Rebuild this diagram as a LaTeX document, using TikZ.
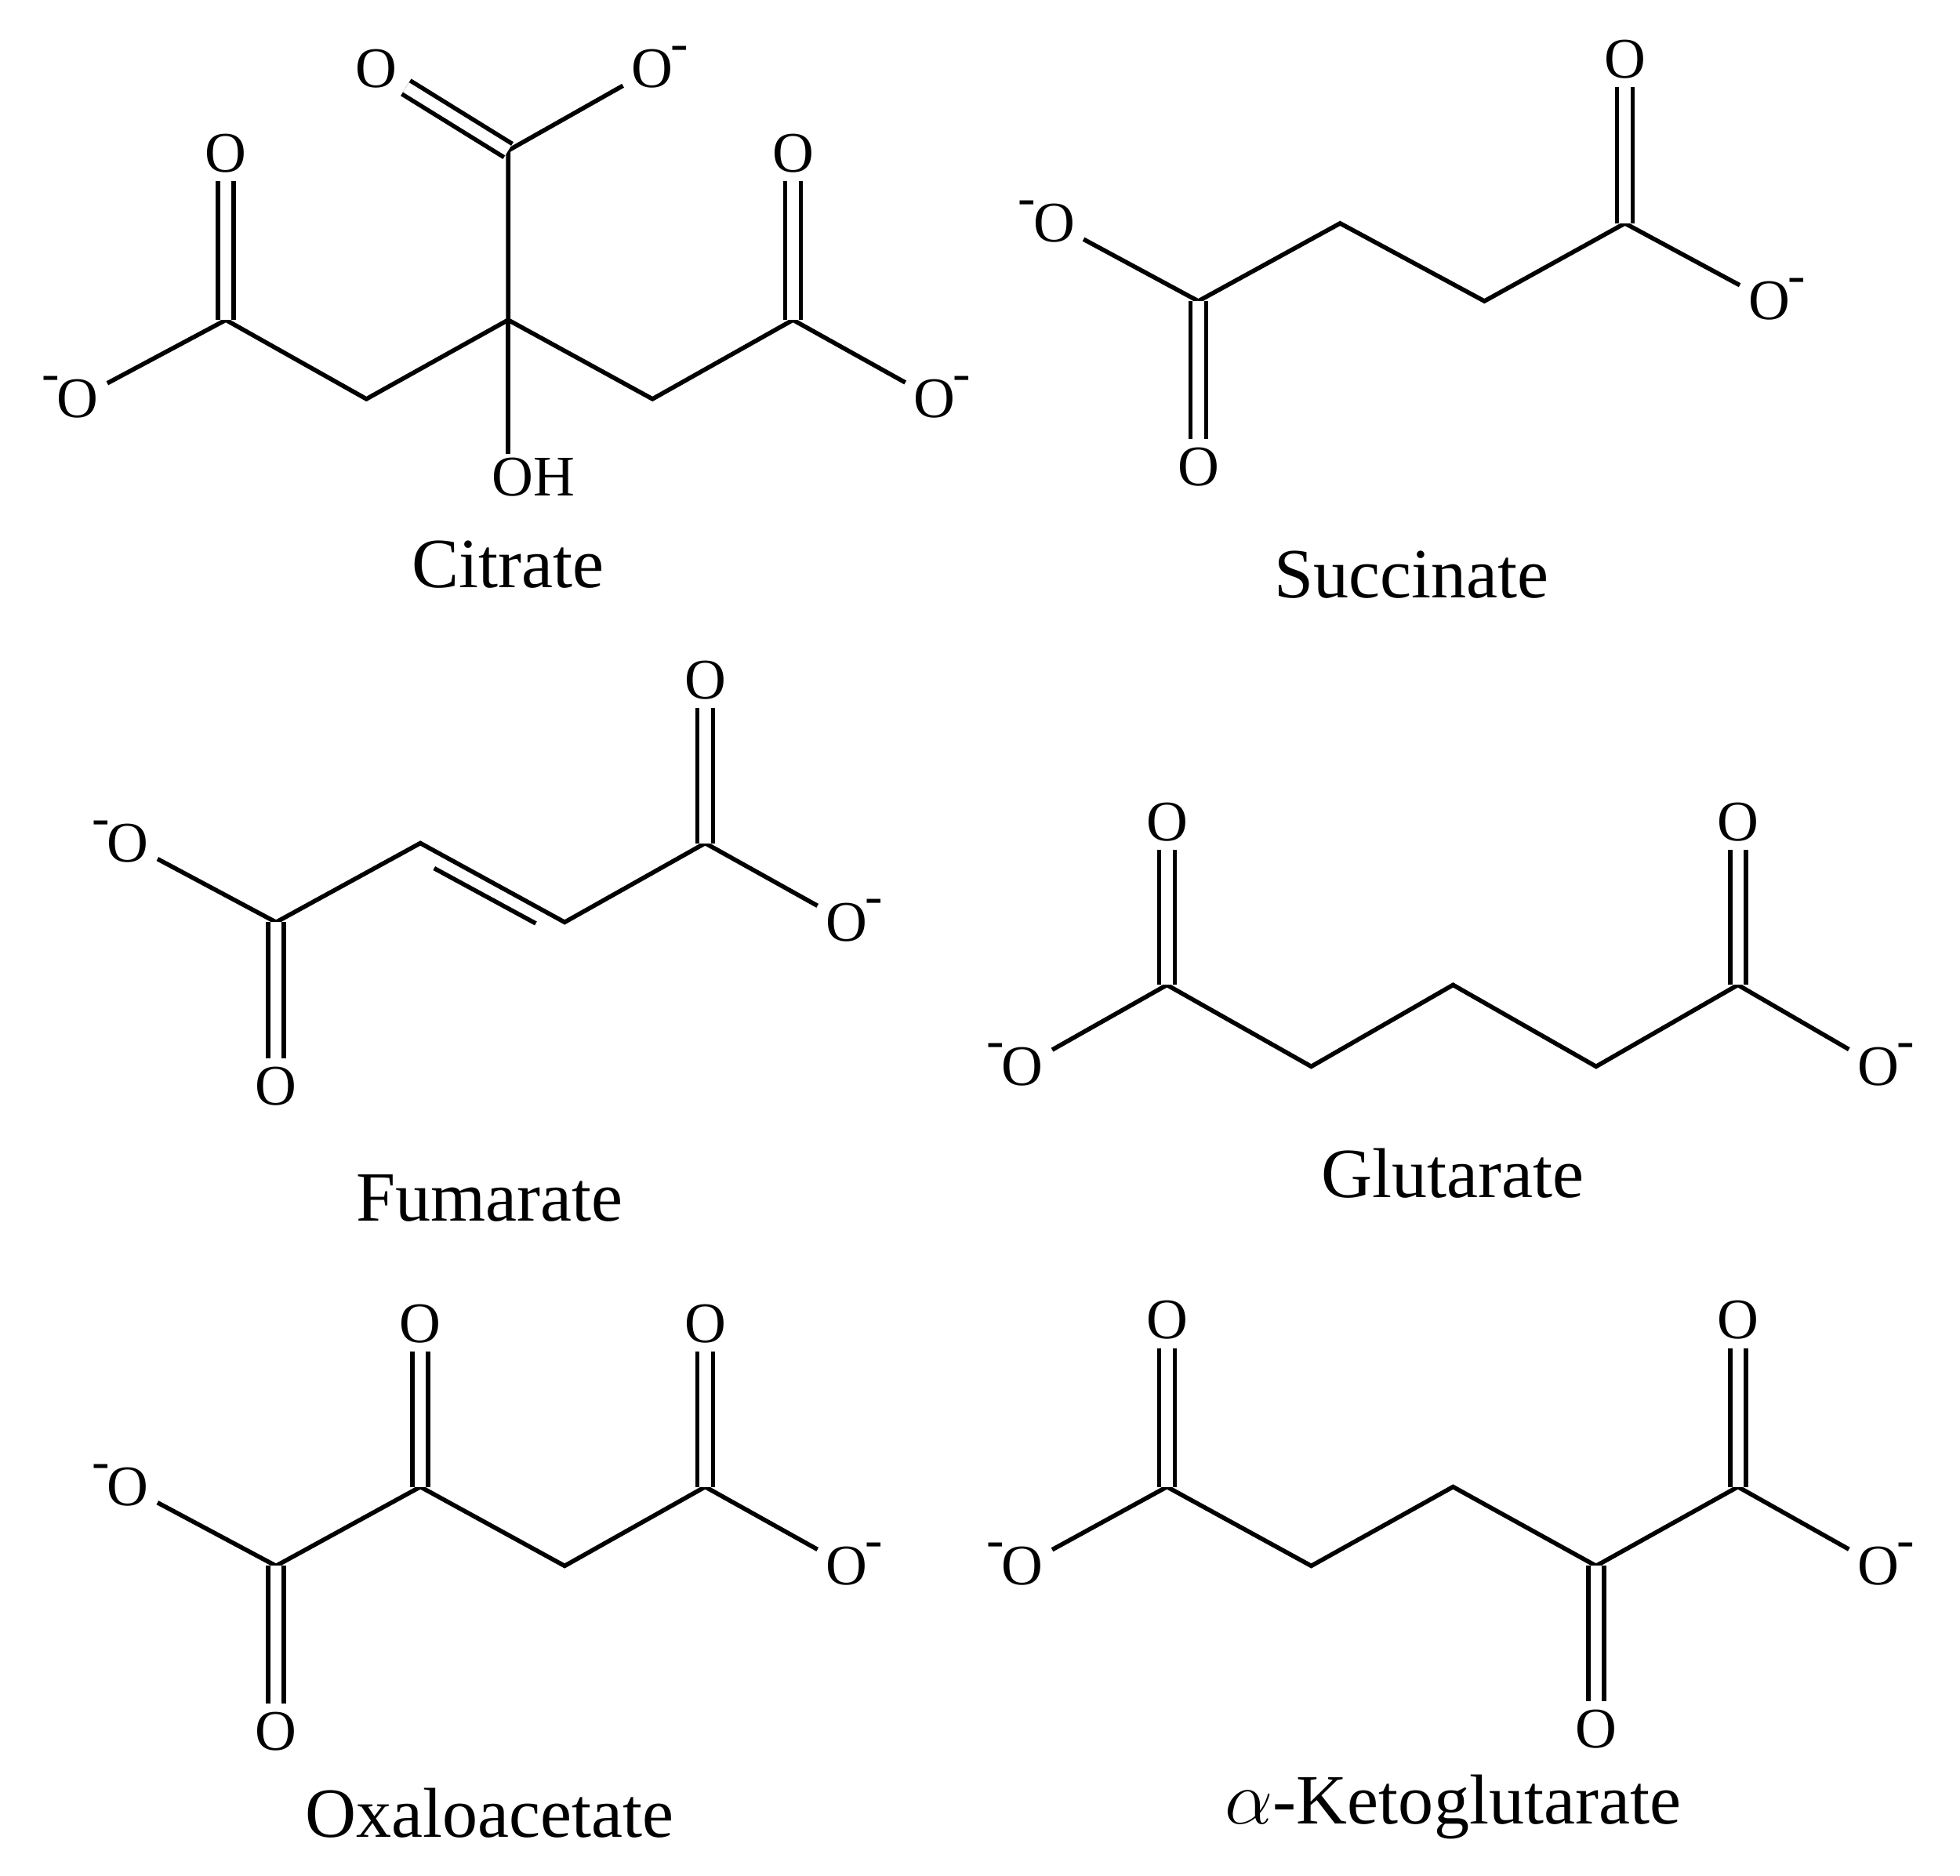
\documentclass[tikz,border=0pt]{standalone}
\usepackage{fontspec}
\setmainfont{Liberation Serif}
\begin{document}
\begin{tikzpicture}[x=0.01cm,y=-0.01cm,line width=0.035cm,
  atom/.style={inner sep=1.5pt,font=\fontsize{13}{13}\selectfont},
  neg/.style={label={[inner sep=0pt,xshift=-3pt,yshift=-5pt,font=\fontsize{12}{12}\selectfont]north east:-}},
  negl/.style={label={[inner sep=0pt,xshift=3pt,yshift=-5pt,font=\fontsize{12}{12}\selectfont]north west:-}},
  molname/.style={font=\fontsize{16}{16}\selectfont},
  dbl/.style={double,double distance=0.09cm}]
\useasboundingbox (0,0) rectangle (1562,1495);
% Citrate
\coordinate (c1) at (405,255); \coordinate (c2) at (405,120);
\coordinate (c3) at (292,318); \coordinate (c4) at (180,255);
\coordinate (c5) at (520,318); \coordinate (c6) at (632,255);
\node[atom] (co1) at (300,55) {O}; \node[atom,neg] (co2) at (520,55) {O};
\node[atom] (co3) at (180,122) {O}; \node[atom,negl] (co4) at (62,318) {O};
\node[atom] (co5) at (632,122) {O}; \node[atom,neg] (co6) at (745,318) {O};
\node[atom] (coh) at (425,380) {OH};
\draw (c1)--(c2) (c2)--(co2) (c1)--(c3)--(c4)--(co4) (c1)--(c5)--(c6)--(co6);
\draw (c1)--(405,362);
\draw[dbl] (c2)--(co1); \draw[dbl] (c4)--(co3); \draw[dbl] (c6)--(co5);
\node[molname] (n1) at (405,450) {Citrate};
% Succinate
\coordinate (s1) at (955,240); \coordinate (s2) at (1068,178);
\coordinate (s3) at (1183,240); \coordinate (s4) at (1295,178);
\node[atom,negl] (so1) at (840,178) {O}; \node[atom] (so2) at (955,372) {O};
\node[atom] (so3) at (1295,47) {O}; \node[atom,neg] (so4) at (1410,240) {O};
\draw (so1)--(s1)--(s2)--(s3)--(s4)--(so4);
\draw[dbl] (s1)--(so2); \draw[dbl] (s4)--(so3);
\node[molname] (n2) at (1125,458) {Succinate};
% Fumarate
\coordinate (f1) at (220,735); \coordinate (f2) at (335,672);
\coordinate (f3) at (450,735); \coordinate (f4) at (562,672);
\coordinate (f5) at (346,692); \coordinate (f6) at (427,736);
\node[atom,negl] (fo1) at (102,672) {O}; \node[atom] (fo2) at (220,866) {O};
\node[atom] (fo3) at (562,542) {O}; \node[atom,neg] (fo4) at (675,735) {O};
\draw (fo1)--(f1)--(f2)--(f3)--(f4)--(fo4) (f5)--(f6);
\draw[dbl] (f1)--(fo2); \draw[dbl] (f4)--(fo3);
\node[molname] (n3) at (390,955) {Fumarate};
% Glutarate
\coordinate (g1) at (930,785); \coordinate (g2) at (1045,850);
\coordinate (g3) at (1158,785); \coordinate (g4) at (1272,850);
\coordinate (g5) at (1385,785);
\node[atom,negl] (go1) at (815,850) {O}; \node[atom] (go2) at (930,655) {O};
\node[atom] (go3) at (1385,655) {O}; \node[atom,neg] (go4) at (1497,850) {O};
\draw (go1)--(g1)--(g2)--(g3)--(g4)--(g5)--(go4);
\draw[dbl] (g1)--(go2); \draw[dbl] (g5)--(go3);
\node[molname] (n4) at (1158,935) {Glutarate};
% Oxaloacetate
\coordinate (o1) at (220,1248); \coordinate (o2) at (335,1185);
\coordinate (o3) at (450,1248); \coordinate (o4) at (562,1185);
\node[atom,negl] (oo1) at (102,1185) {O}; \node[atom] (oo2) at (220,1380) {O};
\node[atom] (oo3) at (335,1055) {O}; \node[atom] (oo4) at (562,1055) {O};
\node[atom,neg] (oo5) at (675,1248) {O};
\draw (oo1)--(o1)--(o2)--(o3)--(o4)--(oo5);
\draw[dbl] (o1)--(oo2); \draw[dbl] (o2)--(oo3); \draw[dbl] (o4)--(oo4);
\node[molname] (n5) at (390,1445) {Oxaloacetate};
% alpha-Ketoglutarate
\coordinate (k1) at (930,1185); \coordinate (k2) at (1045,1248);
\coordinate (k3) at (1158,1185); \coordinate (k4) at (1272,1248);
\coordinate (k5) at (1385,1185);
\node[atom,negl] (ko1) at (815,1248) {O}; \node[atom] (ko2) at (930,1052) {O};
\node[atom] (ko3) at (1272,1378) {O}; \node[atom] (ko4) at (1385,1052) {O};
\node[atom,neg] (ko5) at (1497,1248) {O};
\draw (ko1)--(k1)--(k2)--(k3)--(k4)--(k5)--(ko5);
\draw[dbl] (k1)--(ko2); \draw[dbl] (k4)--(ko3); \draw[dbl] (k5)--(ko4);
\node[molname] (n6) at (1158,1440) {$\alpha$-Ketoglutarate};
\end{tikzpicture}
\end{document}
